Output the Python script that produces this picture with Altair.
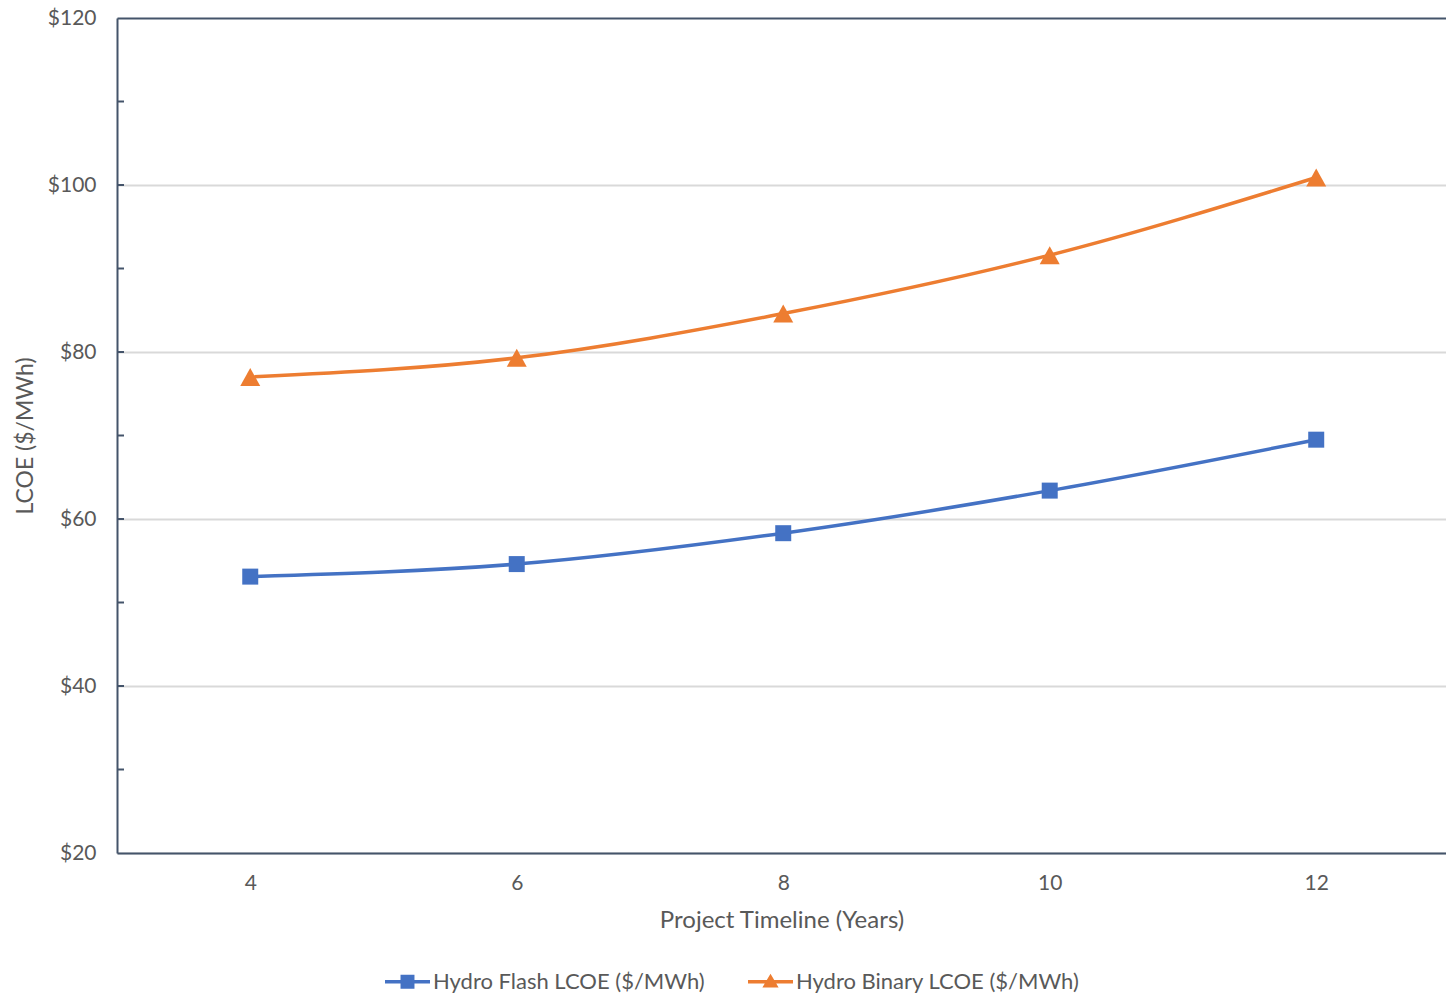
import altair as alt
import pandas as pd

years = [4, 6, 8, 10, 12]
flash = [53.1, 54.6, 58.3, 63.4, 69.5]
binary = [77.0, 79.3, 84.6, 91.6, 100.9]
series_names = ["Hydro Flash LCOE ($/MWh)", "Hydro Binary LCOE ($/MWh)"]
series_colors = ["#4472C4", "#ED7D31"]
y_ticks = [20, 40, 60, 80, 100, 120]
y_minor = [30, 40, 50, 60, 70, 80, 90, 100, 110]
x_ticks = [4, 6, 8, 10, 12]

FONT = "Lato"
TEXT = "#595959"
AXIS = "#44546A"

rows = []
for yr, v in zip(years, flash):
    rows.append({"year": yr, "value": v, "series": series_names[0]})
for yr, v in zip(years, binary):
    rows.append({"year": yr, "value": v, "series": series_names[1]})
df = pd.DataFrame(rows)
ticks_df = pd.DataFrame({"t": y_minor})

x_enc = alt.X("year:Q", scale=alt.Scale(domain=[3, 12.974], nice=False, zero=False),
              axis=alt.Axis(values=x_ticks, format="d", title="Project Timeline (Years)", grid=False,
                            ticks=False, domain=True, domainColor=AXIS, domainWidth=2,
                            labelFont=FONT, labelFontSize=21, labelColor=TEXT, labelPadding=19,
                            titleFont=FONT, titleFontSize=24, titleColor=TEXT, titleFontWeight="normal",
                            titlePadding=15))
y_enc = alt.Y("value:Q", scale=alt.Scale(domain=[20, 120], nice=False, zero=False),
              axis=alt.Axis(values=y_ticks, title="LCOE ($/MWh)", grid=True,
                            gridColor={"condition": {"test": "datum.value >= 120", "value": AXIS},
                                       "value": "#D9D9D9"},
                            gridWidth=2, ticks=False, domain=True, domainColor=AXIS, domainWidth=2,
                            labelFont=FONT, labelFontSize=21, labelColor=TEXT, labelPadding=21,
                            labelExpr="'$' + datum.value",
                            titleFont=FONT, titleFontSize=23, titleColor=TEXT, titleFontWeight="normal",
                            titlePadding=10))

base = alt.Chart(df)

line_flash = base.transform_filter(alt.datum.series == series_names[0]).mark_line(
    strokeWidth=3.5, interpolate="monotone", color=series_colors[0]
).encode(x=x_enc, y=y_enc)

line_binary = base.transform_filter(alt.datum.series == series_names[1]).mark_line(
    strokeWidth=3.5, interpolate="monotone", color=series_colors[1]
).encode(x="year:Q", y="value:Q")

pts_flash = base.transform_filter(alt.datum.series == series_names[0]).mark_point(
    shape="square", filled=True, size=256, color=series_colors[0], opacity=1
).encode(x="year:Q", y="value:Q")

pts_binary = base.transform_filter(alt.datum.series == series_names[1]).mark_point(
    shape="M0,-0.9L1,0.9H-1Z", filled=True, size=400, color=series_colors[1], opacity=1
).encode(x="year:Q", y="value:Q")

leg_shapes = [
    "M-1,-0.078H1V0.078H-1Z M-0.31,-0.31H0.31V0.31H-0.31Z",
    "M-1,-0.078H1V0.078H-1Z M0,-0.36L0.36,0.26H-0.36Z",
]
legend_cfg = alt.Legend(title=None, orient="none", legendX=268, legendY=941, direction="horizontal",
                        symbolSize=2025, symbolStrokeWidth=0, labelFont=FONT, labelFontSize=22,
                        labelColor=TEXT, labelOffset=3, columnPadding=43, labelLimit=0)
legend_layer = base.mark_point(filled=True, opacity=1, size=1).encode(
    x="year:Q", y="value:Q",
    color=alt.Color("series:N", scale=alt.Scale(domain=series_names, range=series_colors), legend=legend_cfg),
    shape=alt.Shape("series:N", scale=alt.Scale(domain=series_names, range=leg_shapes), legend=legend_cfg),
)

tick_rules = alt.Chart(ticks_df).mark_rule(color=AXIS, strokeWidth=2).encode(
    y="t:Q", x=alt.value(0), x2=alt.value(7)
)

chart = alt.layer(line_flash, line_binary, tick_rules, pts_flash, pts_binary, legend_layer).properties(
    width=1329, height=835,
    autosize=alt.AutoSizeParams(type="none"),
    padding={"left": 117, "top": 18, "right": 0, "bottom": 142},
).configure_view(stroke=AXIS, strokeWidth=2).configure(background="white")

chart.save("out.html", embed_options={"renderer": "svg", "actions": False})
